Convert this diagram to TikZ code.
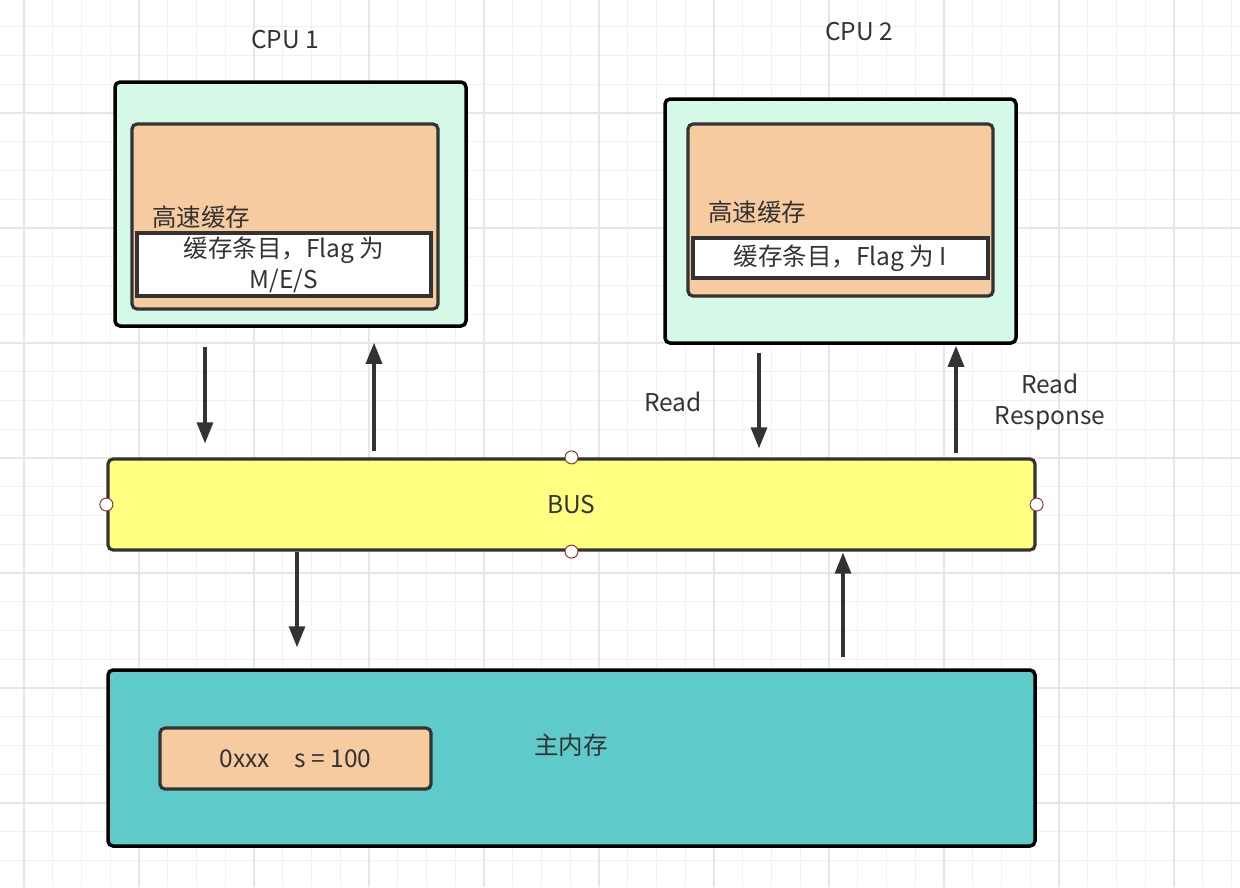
\documentclass[tikz,border=0pt]{standalone}
\usepackage{fontspec}
\setmainfont{Noto Sans CJK SC}
\usepackage{tikz}
\usetikzlibrary{arrows.meta, positioning}
\definecolor{mint}{HTML}{D5F9E6}
\definecolor{peach}{HTML}{F6CBA0}
\definecolor{busyellow}{HTML}{FFFF80}
\definecolor{memteal}{HTML}{5ECAC9}
\definecolor{ink}{HTML}{333333}
\definecolor{gridminor}{HTML}{F1F1F1}
\definecolor{gridmajor}{HTML}{E6E6E6}
\definecolor{portred}{HTML}{8B3A3A}
\tikzstyle{cpu}=[rectangle, draw=black, fill=mint, line width=3.5pt, rounded corners=5pt, minimum width=351pt, minimum height=244pt]
\tikzstyle{cache}=[rectangle, draw=ink, fill=peach, line width=3.2pt, rounded corners=5pt]
\tikzstyle{entry}=[rectangle, draw=ink, fill=white, line width=3.2pt, align=center]
\tikzstyle{bar}=[rectangle, draw=ink, fill=busyellow, line width=3.2pt, rounded corners=5pt, minimum width=927pt, minimum height=91pt]
\tikzstyle{memory}=[rectangle, draw=black, fill=memteal, line width=3.5pt, rounded corners=5pt, minimum width=927pt, minimum height=176pt]
\tikzstyle{port}=[circle, draw=portred, fill=white, line width=1pt, inner sep=0pt, minimum size=13pt]
\tikzstyle{flow}=[-{Triangle[length=21pt,width=16pt]}, draw=ink, line width=3.2pt]

\begin{document}
\begin{tikzpicture}[x=1pt, y=-1pt, text=ink, font=\fontsize{24.5pt}{31pt}\selectfont]
    \useasboundingbox (0,0) rectangle (1240,887);
    \fill[white] (0,0) rectangle (1240,887);
    % grid
    \foreach \i in {-1,...,43}
        \draw[gridminor, line width=1pt] ({24+28.75*\i},0) -- ({24+28.75*\i},887);
    \foreach \j in {-4,...,27}
        \draw[gridminor, line width=1pt] (0,{113+28.75*\j}) -- (1240,{113+28.75*\j});
    \foreach \i in {0,...,10}
        \draw[gridmajor, line width=1.2pt] ({24+115*\i},0) -- ({24+115*\i},887);
    \foreach \j in {0,...,7}
        \draw[gridmajor, line width=1.2pt] (0,{-2+115*\j}) -- (1240,{-2+115*\j});

    % CPU 1
    \node[cpu] (cpu1) at (290.5,204) {};
    \node (title1) at (285,40) {CPU 1};
    \node[cache, minimum width=306pt, minimum height=185pt] (cache1) at (285,216.5) {};
    \node[entry, minimum width=294pt, minimum height=63pt, inner sep=0pt] (entry1) at (284,264.5) {缓存条目，Flag 为\\M/E/S};
    \node[anchor=west, inner sep=0pt] (name1) at (152,217) {高速缓存};

    % CPU 2
    \node[cpu] (cpu2) at (840.5,221) {};
    \node (title2) at (859,32) {CPU 2};
    \node[cache, minimum width=305pt, minimum height=172pt] (cache2) at (840.5,210) {};
    \node[entry, minimum width=295pt, minimum height=40pt, inner sep=0pt] (entry2) at (840.5,258) {缓存条目，Flag 为 I};
    \node[anchor=west, inner sep=0pt] (name2) at (708,212) {高速缓存};

    % bus and memory
    \node[bar] (bus) at (571.5,504.5) {BUS};
    \foreach \a in {north, south, west, east}
        \node[port] at (bus.\a) {};
    \node[memory] (mem) at (571.5,758) {};
    \node (memname) at (571,745) {主内存};
    \node[cache, minimum width=271pt, minimum height=61pt] (cell) at (295.5,758.5) {0xxx\quad s = 100};

    % arrows
    \draw[flow, shorten <=19pt, shorten >=14pt] ([xshift=-85.5pt]cpu1.south) -- ([xshift=-85.5pt]cpu1.south |- bus.north);
    \draw[flow, shorten <=6pt, shorten >=15pt] ([xshift=83.5pt]cpu1.south |- bus.north) -- ([xshift=83.5pt]cpu1.south);
    \draw[flow, shorten <=8pt, shorten >=9pt] ([xshift=-81.5pt]cpu2.south) -- ([xshift=-81.5pt]cpu2.south |- bus.north);
    \draw[flow, shorten <=4pt, shorten >=1pt] ([xshift=115.5pt]cpu2.south |- bus.north) -- ([xshift=115.5pt]cpu2.south);
    \draw[flow, shorten >=21pt] ([xshift=-274.5pt]bus.south) -- ([xshift=-274.5pt]bus.south |- mem.north);
    \draw[flow, shorten <=11pt, shorten >=1pt] ([xshift=271.5pt]bus.south |- mem.north) -- ([xshift=271.5pt]bus.south);
    \node (read) at (673,402) {Read};
    \node[align=center] (resp) at (1050,402) {Read\\Response};
\end{tikzpicture}
\end{document}
